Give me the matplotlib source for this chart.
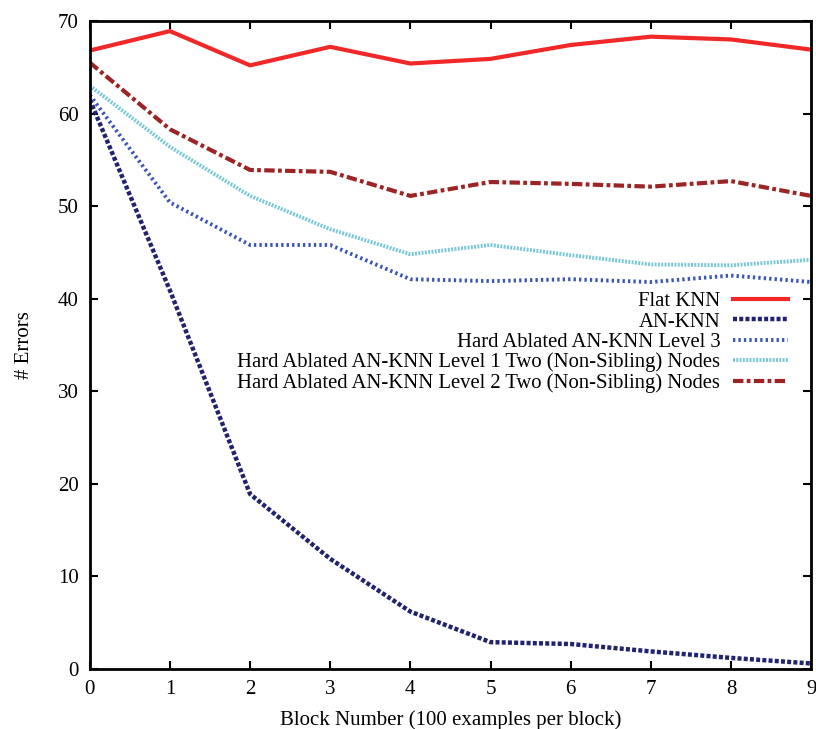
import matplotlib
matplotlib.use("Agg")
import matplotlib.pyplot as plt

blocks = list(range(10))
flat_knn = [66.8, 68.9, 65.2, 67.2, 65.4, 65.9, 67.4, 68.3, 68.0, 66.9]
an_knn = [61.5, 40.9, 18.9, 11.9, 6.2, 2.9, 2.7, 1.9, 1.2, 0.6]
level3 = [62.0, 50.4, 45.8, 45.8, 42.1, 41.9, 42.1, 41.8, 42.5, 41.8]
level1_two = [63.0, 56.4, 51.1, 47.5, 44.8, 45.8, 44.7, 43.7, 43.6, 44.2]
level2_two = [65.5, 58.3, 53.9, 53.7, 51.1, 52.6, 52.4, 52.1, 52.7, 51.1]

labels = ["Flat KNN", "AN-KNN", "Hard Ablated AN-KNN Level 3",
          "Hard Ablated AN-KNN Level 1 Two (Non-Sibling) Nodes",
          "Hard Ablated AN-KNN Level 2 Two (Non-Sibling) Nodes"]

plt.rcParams['font.family'] = ['Liberation Serif', 'DejaVu Serif']

fig = plt.figure(figsize=(8.16, 7.29), dpi=100)
ax = fig.add_axes([0.110, 0.0823, 0.884, 0.889])

ax.plot(blocks, flat_knn, color='#f02828', lw=3.0, ls='-', label=labels[0])
ax.plot(blocks, an_knn, color='#22236e', lw=3.2, ls=(0, (0.9, 0.5)), label=labels[1])
ax.plot(blocks, level3, color='#3a55b4', lw=2.8, ls=(0, (0.6, 0.8)), label=labels[2])
ax.plot(blocks, level1_two, color='#78c8d8', lw=2.8, ls=(0, (0.5, 0.35)), label=labels[3])
ax.plot(blocks, level2_two, color='#9c2424', lw=3.0, ls=(0, (2.5, 0.8, 0.9, 0.8)), label=labels[4])

ax.set_xlim(0, 9)
ax.set_ylim(0, 70)
ax.set_xticks(range(10))
ax.set_yticks(range(0, 71, 10))
ax.tick_params(direction='in', top=True, right=True, length=6, width=1.5,
               labelsize=15, pad=8)
for s in ax.spines.values():
    s.set_linewidth(2)

ax.set_xlabel("Block Number (100 examples per block)", fontsize=15, labelpad=8)
ax.set_ylabel("# Errors", fontsize=15, labelpad=17)

leg = ax.legend(loc='upper right', bbox_to_anchor=(0.968, 0.582), frameon=False,
                markerfirst=False, fontsize=14.9, handlelength=2.65,
                labelspacing=0.04, handletextpad=0.63, borderpad=0,
                borderaxespad=0)
for t in leg.get_texts():
    t.set_ha('right')

fig.savefig("out.png", dpi=100)
